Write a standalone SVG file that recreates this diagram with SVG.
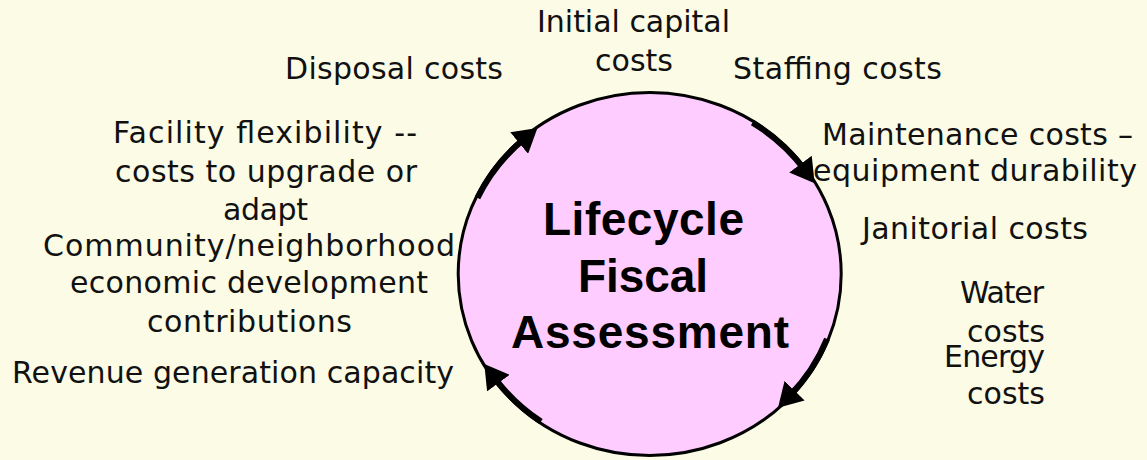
<svg xmlns="http://www.w3.org/2000/svg" width="1147" height="460" viewBox="0 0 1147 460">
<style>
.lbl{font-family:"DejaVu Sans","Liberation Sans",sans-serif;font-size:30px;fill:#111}
.title{font-family:"Liberation Sans",Arial,sans-serif;font-size:46px;font-weight:bold;fill:#000}
.arc{fill:none;stroke:#000;stroke-width:6}
</style>
<defs>
<marker id="ah" markerUnits="userSpaceOnUse" markerWidth="24" markerHeight="28" viewBox="0 0 22 26" refX="7" refY="13" orient="auto">
<path d="M0,0 L22,13 L0,26 z" fill="#000"/>
</marker>
</defs>
<rect width="1147" height="460" fill="#FBFBE6"/>
<g id="center">
<ellipse cx="649.7" cy="274" rx="191.5" ry="181.5" fill="#FFCCFF" stroke="#000" stroke-width="3"/>
<text class="title" x="543" y="235" textLength="201">Lifecycle</text>
<text class="title" x="578" y="292" textLength="130">Fiscal</text>
<text class="title" x="511" y="348" textLength="278">Assessment</text>
</g>
<g id="connectors">
<path class="arc" d="M477.5,197.9 A190,180 0 0 1 525,138.2" marker-end="url(#ah)"/>
<path class="arc" d="M752.5,122.6 A190,180 0 0 1 805,170.2" marker-end="url(#ah)"/>
<path class="arc" d="M827,338.8 A190,180 0 0 1 789.3,396.1" marker-end="url(#ah)"/>
<path class="arc" d="M541,421.6 A190,180 0 0 1 493.9,377" marker-end="url(#ah)"/>
</g>
<g id="initial-capital">
<text class="lbl" x="537" y="32" textLength="193">Initial capital</text>
<text class="lbl" x="595" y="71" textLength="78">costs</text>
</g>
<g id="disposal">
<text class="lbl" x="285" y="79" textLength="218">Disposal costs</text>
</g>
<g id="staffing">
<text class="lbl" x="733" y="79" textLength="209">Staffing costs</text>
</g>
<g id="maintenance">
<text class="lbl" x="822" y="145" textLength="311">Maintenance costs –</text>
<text class="lbl" x="813" y="181" textLength="324">equipment durability</text>
</g>
<g id="flexibility">
<text class="lbl" x="113" y="143" textLength="304">Facility flexibility --</text>
<text class="lbl" x="115" y="182" textLength="302">costs to upgrade or</text>
<text class="lbl" x="223" y="220" textLength="85">adapt</text>
</g>
<g id="community">
<text class="lbl" x="43" y="256" textLength="412">Community/neighborhood</text>
<text class="lbl" x="70" y="293" textLength="358">economic development</text>
<text class="lbl" x="147" y="332" textLength="205">contributions</text>
</g>
<g id="revenue">
<text class="lbl" x="12" y="383" textLength="442">Revenue generation capacity</text>
</g>
<g id="janitorial">
<text class="lbl" x="862" y="239" textLength="226">Janitorial costs</text>
</g>
<g id="water">
<text class="lbl" x="960" y="303" textLength="84">Water</text>
<text class="lbl" x="967" y="342" textLength="78">costs</text>
</g>
<g id="energy">
<text class="lbl" x="944" y="367" textLength="101">Energy</text>
<text class="lbl" x="967" y="404" textLength="78">costs</text>
</g>
</svg>
